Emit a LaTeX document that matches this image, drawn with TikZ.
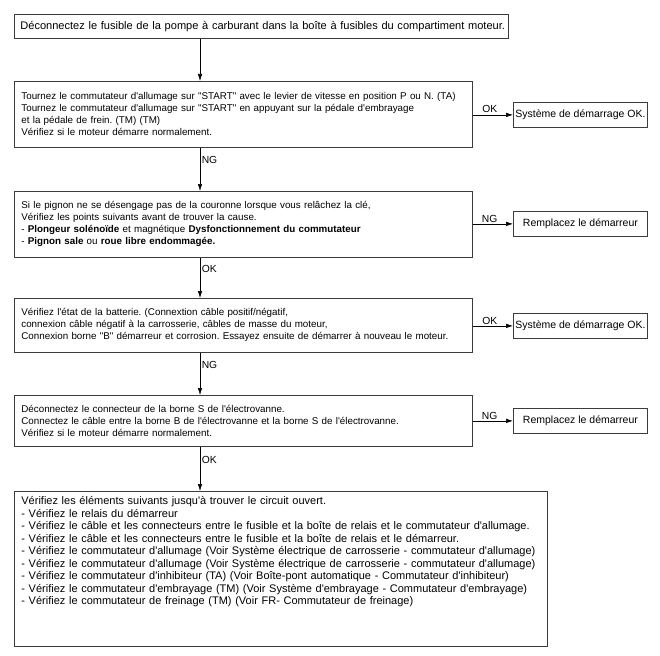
\documentclass[tikz,border=0pt]{standalone}
\usepackage{fontspec}
\newfontfamily\helv{Liberation Sans}
\usetikzlibrary{arrows.meta}
\definecolor{boxgray}{RGB}{60,60,60}
\begin{document}
\frenchspacing
\begin{tikzpicture}[x=1pt,y=-1pt,
  every node/.style={font=\helv\fontsize{9.8}{12}\selectfont, text=black},
  bigbox/.style={draw=boxgray, line width=0.8pt, anchor=north west, inner xsep=7pt, inner ysep=0pt, align=left, minimum height=#1},
  widefont/.style={font=\helv\fontsize{11}{12.5}\selectfont},
  smallbox/.style={draw=boxgray, line width=0.8pt, anchor=north west, inner sep=1pt, minimum width=134pt, minimum height=25pt, font=\helv\fontsize{10.5}{12}\selectfont},
  arr/.style={line width=0.6pt, -{Latex[length=7pt,width=4.5pt]}},
  lab/.style={inner sep=1.5pt, font=\helv\fontsize{10.3}{12}\selectfont}
]
\fill[white] (0,0) rectangle (660,655);
\useasboundingbox (0,0) rectangle (660,655);

\node[bigbox=24pt, font=\helv\fontsize{11.05}{12.5}\selectfont, inner xsep=6pt, text width=482pt] (b1) at (14,14) {\mbox{Déconnectez le fusible de la pompe à carburant dans la boîte à fusibles du compartiment moteur.}};

\node[bigbox=66pt, text width=444pt] (b2) at (14,81) {Tournez le commutateur d'allumage sur "START" avec le levier de vitesse en position P ou N. (TA)\\
Tournez le commutateur d'allumage sur "START" en appuyant sur la pédale d'embrayage\\
et la pédale de frein. (TM) (TM)\\
Vérifiez si le moteur démarre normalement.};
\node[smallbox] (s1) at (513,102) {Système de démarrage OK.};

\node[bigbox=66pt, text width=444pt] (b3) at (14,191) {Si le pignon ne se désengage pas de la couronne lorsque vous relâchez la clé,\\
Vérifiez les points suivants avant de trouver la cause.\\
- \textbf{Plongeur solénoïde} et magnétique \textbf{Dysfonctionnement du commutateur}\\
- \textbf{Pignon sale} ou \textbf{roue libre endommagée.}};
\node[smallbox] (r1) at (513,211) {Remplacez le démarreur};

\node[bigbox=54pt, text width=444pt] (b4) at (14,298) {Vérifiez l'état de la batterie. (Connextion câble positif/négatif,\\
connexion câble négatif à la carrosserie, câbles de masse du moteur,\\
Connexion borne "B" démarreur et corrosion. Essayez ensuite de démarrer à nouveau le moteur.};
\node[smallbox] (s2) at (513,313) {Système de démarrage OK.};

\node[bigbox=51pt, text width=444pt] (b5) at (14,395) {Déconnectez le connecteur de la borne S de l'électrovanne.\\
Connectez le câble entre la borne B de l'électrovanne et la borne S de l'électrovanne.\\
Vérifiez si le moteur démarre normalement.};
\node[smallbox] (r2) at (513,408) {Remplacez le démarreur};

\node[bigbox=155pt, widefont, text width=519pt, inner ysep=5pt] (b6) at (14,491) {\parbox[t][145pt][t]{519pt}{\raggedright
Vérifiez les éléments suivants jusqu'à trouver le circuit ouvert.\\
- Vérifiez le relais du démarreur\\
- Vérifiez le câble et les connecteurs entre le fusible et la boîte de relais et le commutateur d'allumage.\\
- Vérifiez le câble et les connecteurs entre le fusible et la boîte de relais et le démarreur.\\
- Vérifiez le commutateur d'allumage (Voir Système électrique de carrosserie - commutateur d'allumage)\\
- Vérifiez le commutateur d'allumage (Voir Système électrique de carrosserie - commutateur d'allumage)\\
- Vérifiez le commutateur d'inhibiteur (TA) (Voir Boîte-pont automatique - Commutateur d'inhibiteur)\\
- Vérifiez le commutateur d'embrayage (TM) (Voir Système d'embrayage - Commutateur d'embrayage)\\
- Vérifiez le commutateur de freinage (TM) (Voir FR- Commutateur de freinage)}};

\coordinate (ax) at (200,0);
\draw[arr] (b1.south -| ax) -- (b2.north -| ax);
\draw[arr] (b2.south -| ax) -- node[lab, pos=0.28, right] {NG} (b3.north -| ax);
\draw[arr] (b3.south -| ax) -- node[lab, pos=0.28, right] {OK} (b4.north -| ax);
\draw[arr] (b4.south -| ax) -- node[lab, pos=0.28, right] {NG} (b5.north -| ax);
\draw[arr] (b5.south -| ax) -- node[lab, pos=0.3, right] {OK} (b6.north -| ax);

\draw[arr] (b2.east |- s1.west) -- node[lab, pos=0.42, above] {OK} (s1.west);
\draw[arr] (b3.east |- r1.west) -- node[lab, pos=0.42, above] {NG} (r1.west);
\draw[arr] (b4.east |- s2.west) -- node[lab, pos=0.42, above] {OK} (s2.west);
\draw[arr] (b5.east |- r2.west) -- node[lab, pos=0.42, above] {NG} (r2.west);
\end{tikzpicture}
\end{document}
